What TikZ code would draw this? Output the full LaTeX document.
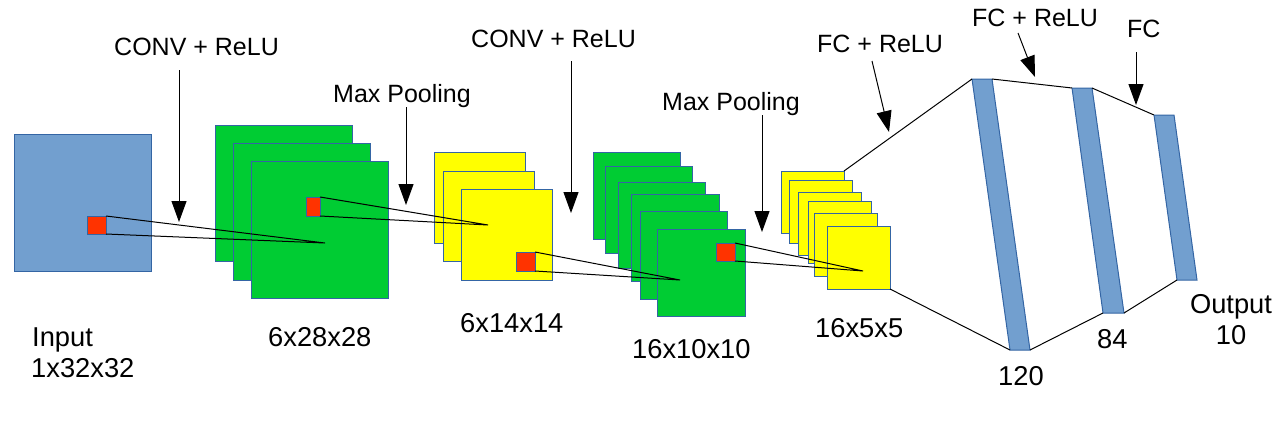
\documentclass[tikz,border=0pt]{standalone}
\usepackage{fontspec}
\setmainfont{Liberation Sans}
\usetikzlibrary{arrows.meta}
\definecolor{lblue}{HTML}{729FCF}
\definecolor{eblue}{HTML}{3465A4}
\definecolor{fgreen}{HTML}{00CC33}
\definecolor{fyellow}{HTML}{FFFF00}
\definecolor{fred}{HTML}{FF3300}
\tikzset{
  lbl/.style={inner sep=0pt, anchor=base west, font=\fontsize{25}{30}\selectfont},
  dlbl/.style={inner sep=0pt, anchor=base west, font=\fontsize{27.3}{32}\selectfont},
  clbl/.style={inner sep=0pt, anchor=base, font=\fontsize{27.3}{32}\selectfont},
  fmap/.style={draw=eblue, line width=1pt, inner sep=0pt, outer sep=0pt, anchor=north west},
  arr/.style={line width=1pt, -{Triangle[width=15pt,length=21pt]}},
  conn/.style={line width=1pt, black},
  bar/.style={fill=lblue, draw=eblue, line width=1pt}
}
\newcommand{\fm}[6]{\node[fmap, fill=#2, minimum width=#5pt, minimum height=#6pt] (#1) at (#3,#4) {};}
\begin{document}
\begin{tikzpicture}[x=1pt,y=-1pt]
\useasboundingbox (0,0) rectangle (1284,421);
% input
\fm{inp}{lblue}{14}{134}{137}{137}
\fm{r1}{fred}{87}{216}{19}{18}
% conv1 maps
\fm{ga}{fgreen}{215}{125}{137}{136}
\fm{gb}{fgreen}{233}{143}{137}{137}
\fm{gc}{fgreen}{251}{161}{137}{137}
\fm{r2}{fred}{306}{197}{14}{19}
% pool1 maps
\fm{ya}{fyellow}{434}{152}{91}{91}
\fm{yb}{fyellow}{443}{171}{91}{90}
\fm{yc}{fyellow}{461}{189}{91}{91}
\fm{r3}{fred}{516}{252}{19}{19}
% conv2 maps
\fm{ha}{fgreen}{593}{152}{87}{87}
\fm{hb}{fgreen}{605}{166}{87}{87}
\fm{hc}{fgreen}{618}{182}{87}{86}
\fm{hd}{fgreen}{631}{194}{88}{87}
\fm{he}{fgreen}{640}{211}{87}{88}
\fm{hf}{fgreen}{657}{229}{88}{87}
\fm{r4}{fred}{716}{243}{19}{18}
% pool2 maps
\fm{sa}{fyellow}{781}{171}{63}{62}
\fm{sb}{fyellow}{789}{180}{63}{63}
\fm{sc}{fyellow}{798}{192}{63}{63}
\fm{sd}{fyellow}{808}{201}{63}{62}
\fm{se}{fyellow}{814}{213}{63}{63}
\fm{sf}{fyellow}{827}{226}{63}{63}
% FC bars
\coordinate (b1tl) at (972,79); \coordinate (b1tr) at (992,79);
\coordinate (b1br) at (1030,350); \coordinate (b1bl) at (1010,350);
\coordinate (b2tl) at (1072,88); \coordinate (b2tr) at (1092,88);
\coordinate (b2br) at (1124,313); \coordinate (b2bl) at (1103,313);
\coordinate (b3tl) at (1154,115); \coordinate (b3tr) at (1174,115);
\coordinate (b3br) at (1197,280); \coordinate (b3bl) at (1177,280);
\draw[bar] (b1tl) -- (b1tr) -- (b1br) -- (b1bl) -- cycle;
\draw[bar] (b2tl) -- (b2tr) -- (b2br) -- (b2bl) -- cycle;
\draw[bar] (b3tl) -- (b3tr) -- (b3br) -- (b3bl) -- cycle;
% receptive field lines
\coordinate (c1) at (325,243);
\coordinate (c2) at (488,225);
\coordinate (c3) at (680,280);
\coordinate (c4) at (863,271);
\draw[conn] (r1.north east) -- (c1) -- (r1.south east);
\draw[conn] (r2.north east) -- (c2) -- (r2.south east);
\draw[conn] (r3.north east) -- (c3) -- (r3.south east);
\draw[conn] (r4.north east) -- (c4) -- (r4.south east);
% fully connected outlines
\draw[conn] (sa.north east) -- (b1tl);
\draw[conn] (sf.south east) -- (b1bl);
\draw[conn] (b1tr) -- (b2tl);
\draw[conn] (b1br) -- (b2bl);
\draw[conn] (b2tr) -- (b3tl);
\draw[conn] (b2br) -- (b3bl);
% labels
\node[lbl] (t1) at (114,55) {CONV + ReLU};
\node[lbl] (t2) at (333,102) {Max Pooling};
\node[lbl] (t3) at (471,47) {CONV + ReLU};
\node[lbl] (t4) at (662,110) {Max Pooling};
\node[lbl] (t5) at (817,52) {FC + ReLU};
\node[lbl] (t6) at (972,26) {FC + ReLU};
\node[lbl] (t7) at (1127,37) {FC};
\node[dlbl] (l1) at (32,346) {Input};
\node[dlbl] (l1b) at (31,377) {1x32x32};
\node[dlbl] (l2) at (268,346) {6x28x28};
\node[dlbl] (l3) at (460,332) {6x14x14};
\node[dlbl] (l4) at (632,358) {16x10x10};
\node[dlbl] (l5) at (815,337) {16x5x5};
\node[dlbl] (l6) at (998,385) {120};
\node[dlbl] (l7) at (1097,348) {84};
\node[clbl] (l8) at (1231,313) {Output};
\node[clbl] (l8b) at (1231,344) {10};
% arrows
\coordinate (a1s) at (179,70);  \coordinate (a1e) at (179,222);
\coordinate (a2s) at (406,107); \coordinate (a2e) at (406,205);
\coordinate (a3s) at (571,61);  \coordinate (a3e) at (571,213);
\coordinate (a4s) at (762,115); \coordinate (a4e) at (762,232);
\coordinate (a5s) at (872,61);  \coordinate (a5e) at (889,132);
\coordinate (a6s) at (1018,33); \coordinate (a6e) at (1035,77);
\coordinate (a7s) at (1136,52); \coordinate (a7e) at (1136,105);
\draw[arr] (a1s) -- (a1e);
\draw[arr] (a2s) -- (a2e);
\draw[arr] (a3s) -- (a3e);
\draw[arr] (a4s) -- (a4e);
\draw[arr] (a5s) -- (a5e);
\draw[arr] (a6s) -- (a6e);
\draw[arr] (a7s) -- (a7e);
\end{tikzpicture}
\end{document}
